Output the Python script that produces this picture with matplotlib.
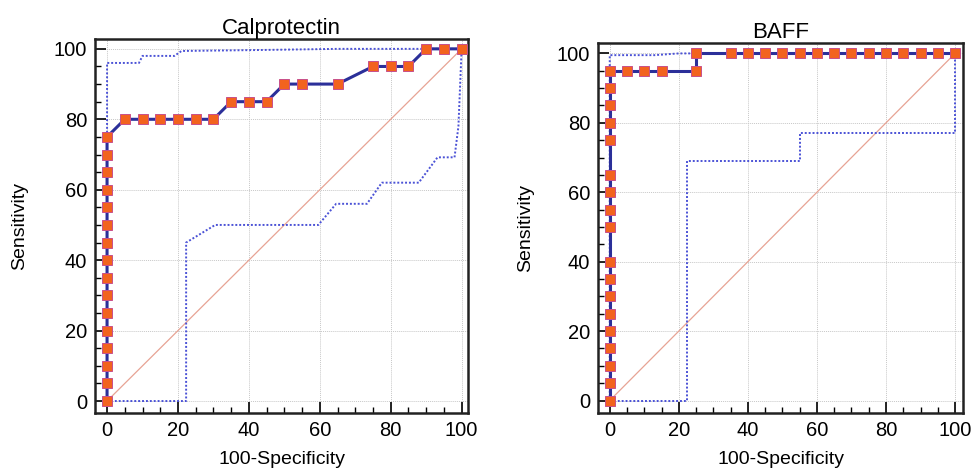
import matplotlib.pyplot as plt
import numpy as np

plt.rcParams['font.family'] = ['Liberation Sans', 'DejaVu Sans']

# Calprotectin ROC curve (100-specificity, sensitivity)
cal_x = [0] * 16 + [5, 10, 15, 20, 25, 30, 35, 40, 45, 50, 55, 65, 75, 80, 85, 90, 95, 100]
cal_y = list(range(0, 80, 5)) + [80, 80, 80, 80, 80, 80, 85, 85, 85, 90, 90, 90, 95, 95, 95, 100, 100, 100]
# confidence bounds
cal_up_x = [0, 0, 9, 10, 19, 21, 45, 65, 100, 100]
cal_up_y = [0, 96, 96, 98, 98, 99.4, 99.7, 100, 100, 100]
cal_lo_x = [0, 22.3, 22.3, 30.5, 59.6, 64.6, 73.3, 77.5, 87.9, 93.2, 98, 99.1, 100]
cal_lo_y = [0, 0, 45, 50, 50, 56, 56, 62, 62, 69.2, 69.2, 78, 100]

# BAFF ROC curve
baff_x = [0] * 18 + [5, 10, 15, 25, 25] + list(range(35, 105, 5))
baff_y = ([0, 5, 10, 15, 20, 25, 30, 35, 40, 50, 55, 60, 65, 75, 80, 85, 90, 95]
          + [95, 95, 95, 95, 100] + [100] * 14)
baff_up_x = [0, 0, 13, 20, 100, 100]
baff_up_y = [0, 99.5, 99.5, 100, 100, 100]
baff_lo_x = [0, 22.5, 22.5, 55, 55, 100, 100]
baff_lo_y = [0, 0, 69, 69, 77, 77, 100]

fig = plt.figure(figsize=(9.72, 4.72), dpi=100)
W, H = 972, 472


def make_axes(px):
    l, t, r, b = px
    return fig.add_axes([l / W, 1 - b / H, (r - l) / W, (b - t) / H])


def draw(ax, x, y, ux, uy, lx, ly, title, xlim, ylim, ylab_x, xlab_y):
    ax.plot([0, 100], [0, 100], color='#E7A394', lw=0.9, zorder=2)
    ax.plot(ux, uy, color='#4B52D6', lw=1.4, ls=(0, (1, 1)), zorder=3)
    ax.plot(lx, ly, color='#4B52D6', lw=1.4, ls=(0, (1, 1)), zorder=3)
    ax.plot(x, y, color='#2B2F99', lw=2.2, marker='s', ms=7,
            mfc='#F2631E', mec='#C8508A', mew=0.7, zorder=4, clip_on=False)
    ax.set_xlim(*xlim)
    ax.set_ylim(*ylim)
    ax.set_xticks(np.arange(0, 101, 20))
    ax.set_yticks(np.arange(0, 101, 20))
    ax.set_xticks(np.arange(0, 101, 5), minor=True)
    ax.set_yticks(np.arange(0, 101, 5), minor=True)
    ax.tick_params(which='major', direction='in', length=8, width=1.2,
                   labelsize=14.5, pad=5.5)
    ax.tick_params(which='minor', direction='in', length=4, width=1.0)
    ax.grid(True, which='major', color='#C8C8C8', lw=0.7, ls=(0, (1, 1)))
    for s in ax.spines.values():
        s.set_linewidth(1.8)
        s.set_color('#222222')
    ax.set_title(title, fontsize=16, pad=1)
    ax.set_xlabel('100-Specificity', fontsize=14)
    ax.set_ylabel('Sensitivity', fontsize=14)
    ax.yaxis.set_label_coords(ylab_x, 0.5)
    ax.xaxis.set_label_coords(0.5, xlab_y)


ax1 = make_axes((95, 39, 468, 413))
draw(ax1, cal_x, cal_y, cal_up_x, cal_up_y, cal_lo_x, cal_lo_y,
     'Calprotectin', (-3.4, 101.8), (-3.4, 102.8), -0.18, -0.102)

ax2 = make_axes((598, 43, 963, 413))
draw(ax2, baff_x, baff_y, baff_up_x, baff_up_y, baff_lo_x, baff_lo_y,
     'BAFF', (-3.4, 102.3), (-3.6, 103), -0.176, -0.103)

fig.savefig('out.png', dpi=100)
